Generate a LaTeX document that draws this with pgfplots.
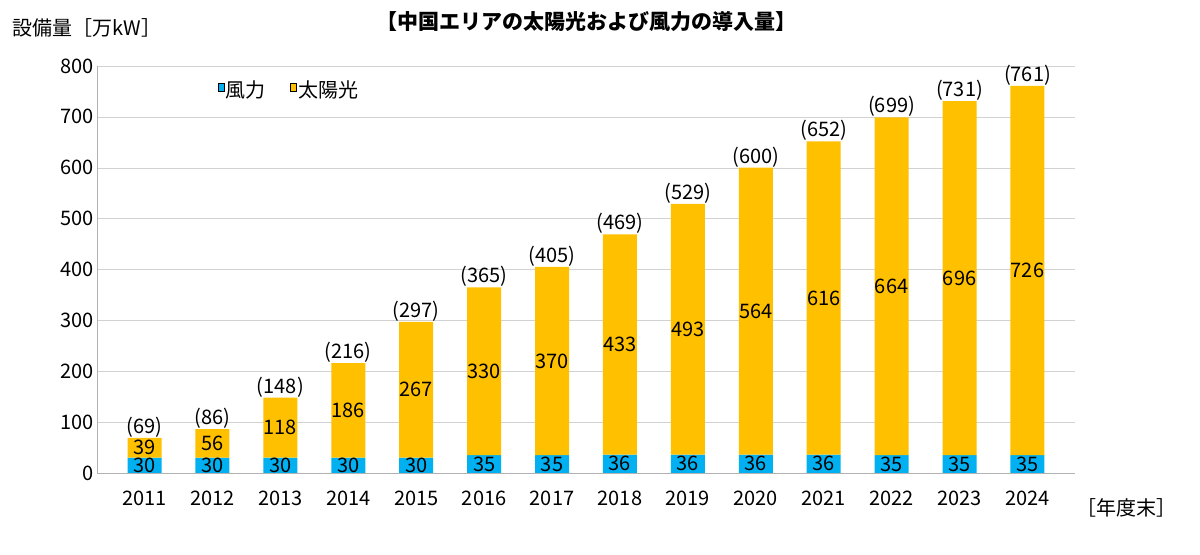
\documentclass[border=0pt]{standalone}
\usepackage{pgfplots}
\pgfplotsset{compat=1.18}
\usepackage{pgfplotstable}
\usepackage{fontspec}
\setmainfont{Noto Sans CJK JP}
\definecolor{wind}{HTML}{00B0F0}
\definecolor{solar}{HTML}{FFC000}
\pgfplotstableread{
x wind solar total wmid smid
0 30 39 69 15 49.5
1 30 56 86 15 58
2 30 118 148 15 89
3 30 186 216 15 123
4 30 267 297 15 163.5
5 35 330 365 17.5 200
6 35 370 405 17.5 220
7 36 433 469 18 252.5
8 36 493 529 18 282.5
9 36 564 600 18 318
10 36 616 652 18 344
11 35 664 699 17.5 367
12 35 696 731 17.5 383
13 35 726 761 17.5 398
}\data
\begin{document}
\begin{tikzpicture}
\begin{axis}[name=ax, scale only axis, width=978pt, height=407pt,
 ymin=0, ymax=800, ytick={0,100,...,800},
 xmin=-0.7, xmax=13.7, xtick={0,...,13},
 xticklabels={2011,2012,2013,2014,2015,2016,2017,2018,2019,2020,2021,2022,2023,2024},
 ymajorgrids, grid style={gray!35},
 axis x line*=bottom, axis y line*=left,
 axis line style={gray!60}, tick style={draw=none},
 tick label style={font=\fontsize{20}{24}\selectfont},
 /pgf/number format/assume math mode=true,
 xticklabel style={yshift=-14pt},
 legend style={at={(0.12,0.975)}, anchor=north west, draw=none, fill=none,
   font=\fontsize{20}{24}\selectfont, legend columns=2,
   /tikz/every even column/.append style={column sep=22pt}},
 legend image code/.code={\fill[#1] (0pt,-6pt) rectangle (13pt,7pt);},
]
\addplot[ybar stacked, bar width=34pt, fill=wind, draw=none] table[x=x,y=wind]{\data};
\addlegendentry{風力}
\addplot[ybar stacked, bar width=34pt, fill=solar, draw=none] table[x=x,y=solar]{\data};
\addlegendentry{太陽光}
\addplot[stack plots=false, only marks, mark=none, nodes near coords, point meta=explicit symbolic,
  every node near coord/.style={anchor=center, font=\fontsize{20}{24}\selectfont}]
  table[x=x,y=wmid,meta=wind]{\data};
\addplot[stack plots=false, only marks, mark=none, nodes near coords, point meta=explicit symbolic,
  every node near coord/.style={anchor=center, font=\fontsize{20}{24}\selectfont}]
  table[x=x,y=smid,meta=solar]{\data};
\addplot[stack plots=false, only marks, mark=none, nodes near coords={(\pgfplotspointmeta)}, point meta=explicit symbolic,
  every node near coord/.style={anchor=south, yshift=-3pt, font=\fontsize{20}{24}\selectfont}]
  table[x=x,y=total,meta=total]{\data};
\end{axis}
\path ([shift={(-97pt,-82pt)}]ax.south west) rectangle ([shift={(125pt,66pt)}]ax.north east);
\node[anchor=west, font=\fontsize{20}{24}\selectfont] at ([shift={(-88pt,38pt)}]ax.north west) {設備量［万kW］};
\node[font=\bfseries\fontsize{21}{25}\selectfont] at ([shift={(0pt,44pt)}]ax.north) {【中国エリアの太陽光および風力の導入量】};
\node[anchor=west, font=\fontsize{20}{24}\selectfont] at ([shift={(-2pt,-35pt)}]ax.south east) {［年度末］};
\end{tikzpicture}
\end{document}
